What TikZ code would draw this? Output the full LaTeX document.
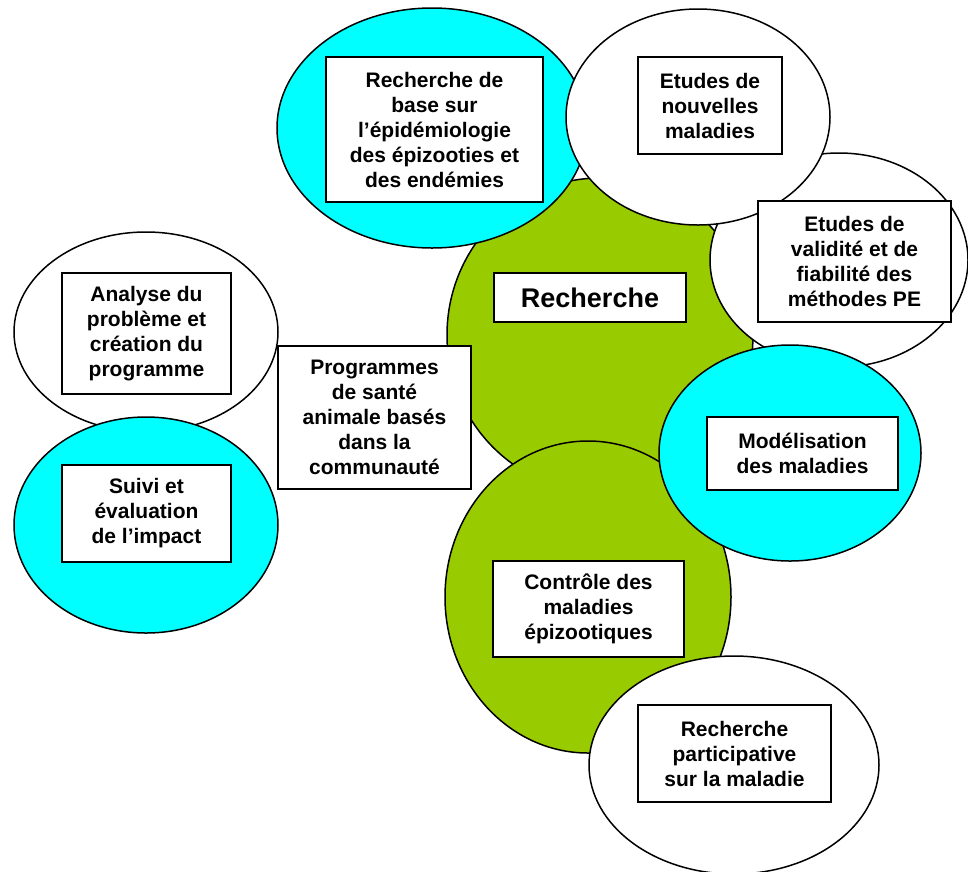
\documentclass[tikz,border=0pt]{standalone}
\usepackage{fontspec}
\setmainfont{Liberation Sans}
\usetikzlibrary{shapes.geometric}
\definecolor{leaf}{HTML}{99CC00}
\definecolor{aqua}{HTML}{00FFFF}
\begin{document}
\begin{tikzpicture}[x=1pt,y=-1pt,
  ell/.style={ellipse,draw=black,line width=1.5pt,inner sep=0pt,outer sep=0pt},
  txtbox/.style={rectangle,draw=black,fill=white,line width=2pt,inner sep=0pt,align=center,
    font=\fontsize{21}{25}\selectfont\bfseries},
]
\useasboundingbox (0,0) rectangle (968,871);
% ellipses (back to front)
\node[ell,fill=leaf,minimum width=306pt,minimum height=314pt] (gRech) at (600,335) {};
\node[ell,fill=leaf,minimum width=286pt,minimum height=312pt] (gCtrl) at (588,597) {};
\node[ell,fill=aqua,minimum width=310pt,minimum height=240pt] (cBase) at (432,128) {};
\node[ell,fill=white,minimum width=258pt,minimum height=214pt] (wVal) at (839,260) {};
\node[ell,fill=white,minimum width=264pt,minimum height=216pt] (wNouv) at (698,117) {};
\node[ell,fill=aqua,minimum width=262pt,minimum height=216pt] (cMod) at (790,453) {};
\node[ell,fill=white,minimum width=290pt,minimum height=218pt] (wPart) at (734,765) {};
\node[ell,fill=white,minimum width=264pt,minimum height=200pt] (wAna) at (146,332) {};
\node[ell,fill=aqua,minimum width=264pt,minimum height=216pt] (cSuivi) at (146,525) {};
% boxes
\node[txtbox,minimum width=217pt,minimum height=145pt] (bBase) at (434.5,129.5)
  {Recherche de\\base sur\\l’épidémiologie\\des épizooties et\\des endémies};
\node[txtbox,minimum width=144pt,minimum height=97pt] (bNouv) at (710,105.5)
  {Etudes de\\nouvelles\\maladies};
\node[txtbox,minimum width=192pt,minimum height=49pt,font=\fontsize{27}{30}\selectfont\bfseries] (bRech) at (590,297.5)
  {Recherche};
\node[txtbox,minimum width=193pt,minimum height=121pt] (bVal) at (854.5,261.5)
  {Etudes de\\validité et de\\fiabilité des\\méthodes PE};
\node[txtbox,minimum width=169pt,minimum height=121pt] (bAna) at (146.5,333.5)
  {Analyse du\\problème et\\création du\\programme};
\node[txtbox,minimum width=193pt,minimum height=143pt] (bProg) at (374.5,417.5)
  {Programmes\\de santé\\animale basés\\dans la\\communauté};
\node[txtbox,minimum width=169pt,minimum height=97pt] (bSuivi) at (146.5,513.5)
  {Suivi et\\évaluation\\de l’impact};
\node[txtbox,minimum width=191pt,minimum height=73pt] (bMod) at (802.5,453.5)
  {Modélisation\\des maladies};
\node[txtbox,minimum width=191pt,minimum height=96pt] (bCtrl) at (588.5,609)
  {Contrôle des\\maladies\\épizootiques};
\node[txtbox,minimum width=193pt,minimum height=97pt] (bPart) at (734.5,753.5)
  {Recherche\\participative\\sur la maladie};
\end{tikzpicture}
\end{document}
